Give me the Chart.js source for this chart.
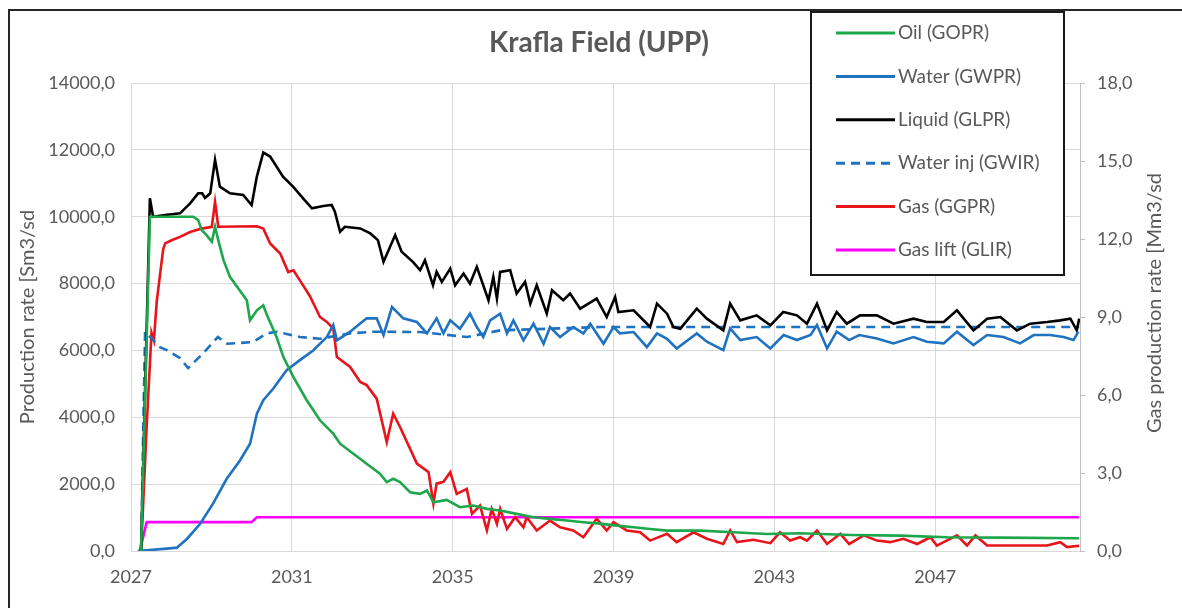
<!DOCTYPE html>
<html>
<head>
<meta charset="utf-8">
<script src="https://cdn.jsdelivr.net/npm/chart.js@4.4.1/dist/chart.umd.min.js"></script>
<style>
  html, body { margin: 0; padding: 0; background: #fff; }
  #wrap { position: relative; width: 1182px; height: 608px; overflow: hidden; }
  #frame { position: absolute; left: 8px; top: 9px; right: -6px; bottom: -6px; border: 2px solid #262626; pointer-events: none; }
</style>
</head>
<body>
<div id="wrap">
  <canvas id="prodChart" width="1182" height="608"></canvas>
  <div id="frame"></div>
</div>
<script>
const chartTitle = 'Krafla Field (UPP)';
const leftAxisTitle = 'Production rate [Sm3/sd';
const rightAxisTitle = 'Gas production rate [Mm3/sd';
const xTickYears = [2027, 2031, 2035, 2039, 2043, 2047];

const seriesLabels = ['Oil (GOPR)', 'Water (GWPR)', 'Liquid (GLPR)', 'Water inj (GWIR)', 'Gas (GGPR)', 'Gas lift (GLIR)'];
const seriesColors = ['#1DA64A', '#1F72C0', '#000000', '#1F72C0', '#E8141B', '#FF00FF'];

// [year, Sm3/sd]
const oil = [
  [2027.25, 0], [2027.47, 10000], [2027.55, 10000], [2028.55, 10000], [2028.67, 9900], [2028.76, 9600],
  [2028.88, 9450], [2029.01, 9250], [2029.09, 9700], [2029.17, 9300], [2029.30, 8700], [2029.46, 8200],
  [2029.88, 7500], [2029.96, 6900], [2030.13, 7200], [2030.29, 7350], [2030.38, 7060], [2030.62, 6400],
  [2030.79, 5800], [2031.04, 5200], [2031.37, 4510], [2031.70, 3910], [2032.03, 3510], [2032.20, 3210],
  [2032.53, 2910], [2032.86, 2610], [2033.19, 2310], [2033.36, 2060], [2033.52, 2160], [2033.69, 2060],
  [2033.94, 1760], [2034.19, 1710], [2034.36, 1810], [2034.52, 1460], [2034.85, 1530], [2035.18, 1310],
  [2035.51, 1360], [2035.85, 1260], [2036.18, 1210], [2036.59, 1110], [2037.01, 1010], [2037.42, 960],
  [2037.84, 910], [2038.25, 860], [2038.67, 820], [2039.08, 760], [2039.50, 710], [2039.91, 660],
  [2040.33, 610], [2041.15, 610], [2041.98, 560], [2042.81, 510], [2043.64, 530], [2044.89, 480],
  [2046.13, 460], [2047.30, 410], [2048.62, 400], [2050.58, 380]
];
const water = [
  [2027.17, 0], [2027.89, 70], [2028.14, 100], [2028.39, 360], [2028.72, 815], [2029.04, 1415],
  [2029.38, 2160], [2029.71, 2710], [2029.96, 3210], [2030.13, 4110], [2030.29, 4510], [2030.54, 4860],
  [2030.87, 5410], [2031.20, 5710], [2031.53, 6000], [2031.87, 6400], [2032.03, 6760], [2032.12, 6300],
  [2032.45, 6560], [2032.86, 6960], [2033.11, 6960], [2033.28, 6460], [2033.49, 7300], [2033.77, 6960],
  [2034.11, 6850], [2034.36, 6510], [2034.60, 6960], [2034.77, 6510], [2034.94, 6900], [2035.18, 6650],
  [2035.43, 7100], [2035.60, 6700], [2035.76, 6400], [2035.93, 6900], [2036.18, 7100], [2036.35, 6510],
  [2036.51, 6900], [2036.76, 6300], [2037.01, 6800], [2037.26, 6200], [2037.42, 6700], [2037.67, 6400],
  [2038.00, 6700], [2038.25, 6510], [2038.42, 6800], [2038.75, 6200], [2039.00, 6700], [2039.16, 6510],
  [2039.50, 6550], [2039.83, 6100], [2040.08, 6510], [2040.33, 6350], [2040.57, 6060], [2041.07, 6510],
  [2041.32, 6260], [2041.73, 6010], [2041.90, 6660], [2042.15, 6310], [2042.56, 6400], [2042.90, 6060],
  [2043.23, 6460], [2043.56, 6310], [2043.90, 6460], [2044.06, 6760], [2044.31, 6060], [2044.55, 6560],
  [2044.86, 6310], [2045.11, 6460], [2045.55, 6360], [2045.96, 6210], [2046.46, 6400], [2046.79, 6260],
  [2047.21, 6210], [2047.54, 6560], [2047.95, 6160], [2048.29, 6460], [2048.70, 6400], [2049.11, 6210],
  [2049.45, 6460], [2049.86, 6460], [2050.19, 6400], [2050.44, 6310], [2050.56, 6560]
];
const liquid = [
  [2027.25, 0], [2027.47, 10550], [2027.55, 10000], [2027.85, 10050], [2028.22, 10100], [2028.47, 10400],
  [2028.67, 10700], [2028.77, 10700], [2028.84, 10560], [2028.97, 10700], [2029.09, 11700], [2029.21, 10900],
  [2029.46, 10700], [2029.79, 10650], [2030.00, 10350], [2030.13, 11200], [2030.29, 11920], [2030.46, 11800],
  [2030.78, 11200], [2031.03, 10900], [2031.28, 10550], [2031.50, 10250], [2031.78, 10320], [2031.99, 10350],
  [2032.07, 10150], [2032.20, 9550], [2032.32, 9700], [2032.70, 9650], [2032.95, 9500], [2033.14, 9300],
  [2033.28, 8650], [2033.57, 9450], [2033.73, 8950], [2034.01, 8650], [2034.19, 8400], [2034.31, 8700],
  [2034.51, 7950], [2034.60, 8350], [2034.73, 8050], [2034.94, 8450], [2035.06, 7950], [2035.27, 8300],
  [2035.43, 8000], [2035.60, 8500], [2035.89, 7500], [2036.01, 8200], [2036.10, 7550], [2036.18, 8350],
  [2036.43, 8400], [2036.59, 7700], [2036.80, 8050], [2036.93, 7400], [2037.09, 7950], [2037.34, 7100],
  [2037.47, 7800], [2037.75, 7500], [2037.92, 7700], [2038.17, 7250], [2038.58, 7550], [2038.83, 7000],
  [2039.04, 7600], [2039.12, 7150], [2039.50, 7200], [2039.91, 6700], [2040.08, 7400], [2040.33, 7100],
  [2040.49, 6700], [2040.66, 6650], [2041.07, 7250], [2041.32, 6950], [2041.73, 6600], [2041.90, 7400],
  [2042.15, 6900], [2042.56, 7050], [2042.90, 6750], [2043.22, 7150], [2043.56, 7050], [2043.81, 6800],
  [2044.06, 7400], [2044.31, 6600], [2044.55, 7150], [2044.80, 6800], [2045.13, 7050], [2045.55, 7050],
  [2045.96, 6800], [2046.46, 6950], [2046.79, 6850], [2047.21, 6850], [2047.54, 7200], [2047.95, 6600],
  [2048.29, 6950], [2048.62, 7000], [2049.03, 6600], [2049.36, 6800], [2049.78, 6850], [2050.11, 6900],
  [2050.36, 6950], [2050.52, 6600], [2050.58, 6950]
];
const waterInj = [
  [2027.25, 0], [2027.35, 6560], [2027.72, 6100], [2027.90, 6000], [2028.22, 5770], [2028.42, 5470],
  [2028.79, 5910], [2029.16, 6400], [2029.39, 6200], [2030.03, 6250], [2030.38, 6510], [2030.63, 6560],
  [2031.20, 6400], [2031.70, 6350], [2032.45, 6510], [2033.02, 6560], [2034.19, 6550], [2035.36, 6400],
  [2036.18, 6600], [2037.42, 6650], [2038.67, 6700], [2041.15, 6700], [2043.64, 6700], [2046.13, 6700],
  [2048.62, 6700], [2050.58, 6700]
];
// [year, Mm3/sd]
const gas = [
  [2027.25, 0], [2027.39, 4.8], [2027.51, 8.4], [2027.57, 8.1], [2027.64, 9.6], [2027.80, 11.6],
  [2027.85, 11.83], [2028.01, 11.95], [2028.22, 12.08], [2028.47, 12.27], [2028.76, 12.4], [2029.01, 12.47],
  [2029.09, 13.43], [2029.17, 12.47], [2030.13, 12.49], [2030.29, 12.4], [2030.46, 11.83], [2030.71, 11.44],
  [2030.91, 10.73], [2031.04, 10.8], [2031.20, 10.41], [2031.45, 9.8], [2031.70, 9.0], [2031.87, 8.81],
  [2032.03, 8.55], [2032.12, 7.46], [2032.45, 7.08], [2032.70, 6.5], [2032.86, 6.38], [2033.11, 5.86],
  [2033.36, 4.19], [2033.52, 5.28], [2033.69, 4.77], [2034.11, 3.36], [2034.40, 3.03], [2034.52, 1.82],
  [2034.60, 2.59], [2034.77, 2.66], [2034.94, 3.03], [2035.10, 2.2], [2035.35, 2.39], [2035.48, 1.43],
  [2035.68, 1.75], [2035.85, 0.79], [2035.97, 1.62], [2036.10, 1.04], [2036.18, 1.62], [2036.35, 0.85],
  [2036.55, 1.3], [2036.76, 0.91], [2036.84, 1.3], [2037.09, 0.79], [2037.42, 1.17], [2037.67, 0.91],
  [2038.00, 0.79], [2038.25, 0.53], [2038.58, 1.24], [2038.83, 0.79], [2039.00, 1.11], [2039.33, 0.79],
  [2039.66, 0.72], [2039.91, 0.4], [2040.33, 0.66], [2040.57, 0.34], [2040.99, 0.72], [2041.32, 0.47],
  [2041.73, 0.27], [2041.90, 0.79], [2042.07, 0.34], [2042.48, 0.43], [2042.90, 0.3], [2043.14, 0.72],
  [2043.39, 0.4], [2043.64, 0.53], [2043.81, 0.4], [2044.06, 0.79], [2044.31, 0.27], [2044.64, 0.66],
  [2044.86, 0.27], [2045.22, 0.6], [2045.55, 0.4], [2045.88, 0.34], [2046.21, 0.47], [2046.55, 0.27],
  [2046.88, 0.53], [2047.04, 0.21], [2047.54, 0.6], [2047.79, 0.21], [2048.00, 0.6], [2048.29, 0.21],
  [2048.95, 0.21], [2049.78, 0.21], [2050.11, 0.34], [2050.28, 0.15], [2050.58, 0.2]
];
const gasLift = [
  [2027.22, 0], [2027.39, 1.11], [2030.00, 1.11], [2030.13, 1.30], [2050.58, 1.30]
];

const seriesData = [oil, water, liquid, waterInj, gas, gasLift];
const seriesAxis = ['y', 'y', 'y', 'y', 'y2', 'y2'];

const textGray = '#595959';
const gridGray = '#d9d9d9';
const fontFamily = 'Lato, "Open Sans", sans-serif';

function commaFmt(v) {
  return Number(v).toFixed(1).replace('.', ',');
}

const datasets = seriesData.map((pts, i) => ({
  label: seriesLabels[i],
  data: pts.map(p => ({ x: p[0], y: p[1] })),
  yAxisID: seriesAxis[i],
  borderColor: seriesColors[i],
  backgroundColor: seriesColors[i],
  borderWidth: 2.6,
  borderDash: i === 3 ? [9, 6] : [],
  pointRadius: 0,
  tension: 0,
  fill: false
}));

// legend box drawn over the plot, like the Excel chart
const boxLegend = {
  id: 'boxLegend',
  afterDraw(chart) {
    const ctx = chart.ctx;
    ctx.save();
    ctx.fillStyle = '#fff';
    ctx.fillRect(811, 12, 253, 263);
    ctx.lineWidth = 2;
    ctx.strokeStyle = '#1a1a1a';
    ctx.strokeRect(811, 12, 253, 263);
    chart.data.datasets.forEach((ds, i) => {
      const y = 33 + i * 43.4;
      ctx.beginPath();
      ctx.setLineDash(ds.borderDash || []);
      ctx.strokeStyle = ds.borderColor;
      ctx.lineWidth = 3;
      ctx.moveTo(836, y);
      ctx.lineTo(895, y);
      ctx.stroke();
      ctx.setLineDash([]);
      ctx.fillStyle = textGray;
      ctx.font = '19px ' + fontFamily;
      ctx.textBaseline = 'middle';
      ctx.textAlign = 'left';
      ctx.fillText(ds.label, 898, y);
    });
    // right axis title reads bottom-to-top
    ctx.translate(1155, 303);
    ctx.rotate(-Math.PI / 2);
    ctx.textAlign = 'center';
    ctx.font = '20px ' + fontFamily;
    ctx.fillStyle = textGray;
    ctx.fillText(rightAxisTitle, 0, 0);
    ctx.restore();
  }
};

const ctx = document.getElementById('prodChart').getContext('2d');
new Chart(ctx, {
  type: 'line',
  data: { datasets: datasets },
  plugins: [boxLegend],
  options: {
    responsive: false,
    animation: false,
    layout: { padding: { left: 16, right: 0, top: 0, bottom: 0 } },
    plugins: {
      legend: { display: false },
      tooltip: { enabled: false },
      title: {
        display: true,
        text: chartTitle,
        color: textGray,
        font: { family: fontFamily, size: 28, weight: 'bold' },
        padding: { top: 26, bottom: 23.4 }
      }
    },
    scales: {
      x: {
        type: 'linear',
        min: 2027,
        max: 2050.6,
        afterBuildTicks: s => { s.ticks = xTickYears.map(v => ({ value: v })); },
        afterFit: s => { s.height = 57; },
        grid: { color: gridGray, drawTicks: false },
        border: { display: false },
        ticks: {
          padding: 15,
          color: textGray,
          font: { family: fontFamily, size: 18 },
          callback: v => String(v)
        }
      },
      y: {
        position: 'left',
        min: 0,
        max: 14000,
        afterFit: s => { s.width = 115; },
        grid: { color: gridGray, drawTicks: false },
        border: { display: false },
        ticks: {
          stepSize: 2000,
          padding: 16,
          color: textGray,
          font: { family: fontFamily, size: 18 },
          callback: commaFmt
        },
        title: {
          display: true,
          text: leftAxisTitle,
          color: textGray,
          padding: 0,
          font: { family: fontFamily, size: 20 }
        }
      },
      y2: {
        position: 'right',
        min: 0,
        max: 18,
        afterFit: s => { s.width = 102; },
        grid: { drawOnChartArea: false, drawTicks: true, tickLength: 5, color: '#bfbfbf' },
        border: { display: true, color: '#bfbfbf' },
        ticks: {
          stepSize: 3,
          padding: 12,
          color: textGray,
          font: { family: fontFamily, size: 18 },
          callback: commaFmt
        }
      }
    }
  }
});
</script>
</body>
</html>
